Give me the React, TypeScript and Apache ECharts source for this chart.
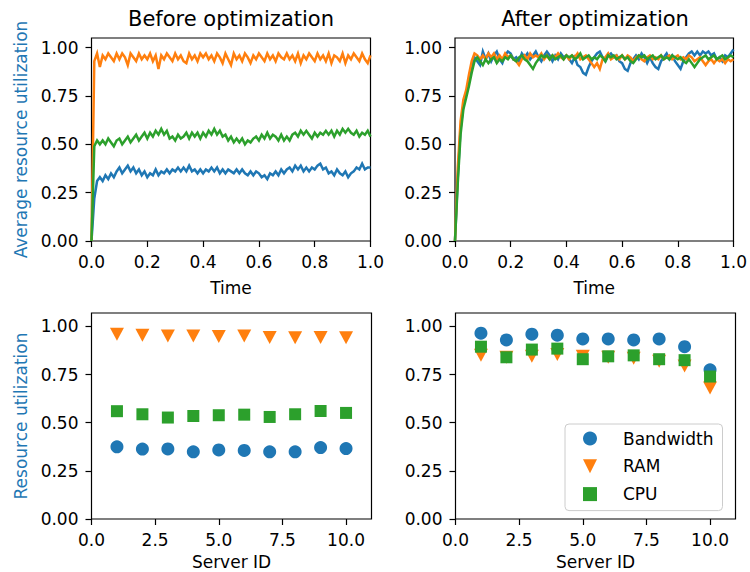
import React, { useEffect, useRef } from "react";
import * as echarts from "echarts";

// ---------- data ----------
const seriesNames = ["Bandwidth", "RAM", "CPU"];
const colors = ["#1f77b4", "#ff7f0e", "#2ca02c"];

// time samples (0.00 .. 1.00)
const timeSteps = 101;
const time = Array.from({ length: timeSteps }, (_, i) => i / 100);

// Before optimization (average utilization over time)
const beforeBandwidth = [
  0, 0.22, 0.31, 0.33, 0.31, 0.34, 0.32, 0.35, 0.33, 0.36,
  0.38, 0.35, 0.37, 0.39, 0.36, 0.38, 0.35, 0.37, 0.34, 0.36,
  0.33, 0.35, 0.34, 0.37, 0.34, 0.36, 0.35, 0.37, 0.35, 0.37,
  0.36, 0.38, 0.36, 0.38, 0.36, 0.39, 0.36, 0.37, 0.35, 0.37,
  0.35, 0.37, 0.36, 0.38, 0.36, 0.38, 0.35, 0.37, 0.35, 0.37,
  0.36, 0.35, 0.37, 0.35, 0.37, 0.35, 0.34, 0.36, 0.34, 0.36,
  0.35, 0.33, 0.34, 0.32, 0.35, 0.34, 0.36, 0.34, 0.37, 0.35,
  0.37, 0.38, 0.36, 0.39, 0.37, 0.39, 0.36, 0.38, 0.36, 0.38,
  0.37, 0.39, 0.4, 0.37, 0.38, 0.35, 0.36, 0.34, 0.37, 0.35,
  0.34, 0.36, 0.33, 0.35, 0.36, 0.38, 0.37, 0.4, 0.37, 0.38,
  0.38,
];
const beforeRAM = [
  0, 0.93, 0.97, 0.9, 0.96, 0.94, 0.97, 0.95, 0.93, 0.97,
  0.94, 0.97, 0.95, 0.91, 0.97, 0.95, 0.93, 0.97, 0.94, 0.96,
  0.94, 0.97, 0.93, 0.96, 0.89, 0.96, 0.94, 0.97, 0.95, 0.93,
  0.97, 0.94, 0.96, 0.93, 0.92, 0.97, 0.94, 0.96, 0.93, 0.97,
  0.95, 0.97, 0.94, 0.96, 0.93, 0.97, 0.95, 0.92, 0.97, 0.94,
  0.91, 0.97, 0.94, 0.96, 0.93, 0.97, 0.95, 0.92, 0.96, 0.94,
  0.97, 0.95, 0.93, 0.97, 0.94, 0.96, 0.93, 0.97, 0.95, 0.94,
  0.97, 0.94, 0.96, 0.93, 0.97, 0.92, 0.96, 0.94, 0.97, 0.95,
  0.93, 0.97, 0.94, 0.96, 0.93, 0.97, 0.92, 0.96, 0.95, 0.93,
  0.97, 0.92, 0.96, 0.94, 0.97, 0.95, 0.93, 0.97, 0.94, 0.92,
  0.96,
];
const beforeCPU = [
  0, 0.49, 0.52, 0.5, 0.52, 0.5, 0.53, 0.51, 0.49, 0.52,
  0.53, 0.5, 0.52, 0.54, 0.51, 0.53, 0.55, 0.52, 0.54, 0.56,
  0.53, 0.56, 0.54, 0.57, 0.55, 0.58, 0.55, 0.57, 0.53, 0.54,
  0.52, 0.55, 0.53, 0.54, 0.56, 0.53, 0.56, 0.54, 0.56, 0.53,
  0.56, 0.54, 0.57, 0.55, 0.58, 0.55, 0.57, 0.54, 0.55, 0.52,
  0.54, 0.51, 0.53, 0.51, 0.53, 0.5, 0.52, 0.51, 0.53, 0.54,
  0.52, 0.55, 0.53, 0.56, 0.53, 0.55, 0.54, 0.52, 0.55, 0.52,
  0.54, 0.52, 0.55, 0.56, 0.54, 0.57, 0.55, 0.57, 0.55, 0.53,
  0.56, 0.54, 0.56, 0.55, 0.57, 0.55, 0.57, 0.54, 0.57, 0.55,
  0.58, 0.56, 0.58, 0.56, 0.55, 0.57, 0.54, 0.56, 0.55, 0.57,
  0.54,
];

// After optimization (average utilization over time)
const afterBandwidth = [
  0, 0.33, 0.58, 0.7, 0.76, 0.83, 0.9, 0.95, 0.93, 0.91,
  0.98, 0.94, 0.97, 0.93, 0.96, 0.98, 0.94, 0.92, 0.96, 0.98,
  0.97, 0.94, 0.95, 0.93, 0.97, 0.95, 0.97, 0.94, 0.96, 0.98,
  0.95, 0.93, 0.96, 0.98, 0.96, 0.93, 0.96, 0.94, 0.97, 0.95,
  0.96, 0.94, 0.92, 0.95, 0.91, 0.9, 0.87, 0.86, 0.9, 0.93,
  0.95, 0.97, 0.98, 0.95, 0.93, 0.96, 0.97, 0.95, 0.96, 0.93,
  0.92, 0.89, 0.88, 0.92, 0.94, 0.96, 0.94, 0.97, 0.95, 0.92,
  0.95, 0.92, 0.9, 0.89, 0.93, 0.95, 0.97, 0.94, 0.96, 0.93,
  0.91, 0.89, 0.93, 0.95, 0.97, 0.98, 0.96, 0.98, 0.96, 0.98,
  0.97, 0.98, 0.96, 0.97, 0.94, 0.95, 0.93, 0.96, 0.95, 0.97,
  0.99,
];
const afterRAM = [
  0, 0.38, 0.62, 0.73, 0.78, 0.86, 0.93, 0.97, 0.96, 0.94,
  0.96, 0.94, 0.97, 0.95, 0.97, 0.94, 0.96, 0.94, 0.97, 0.95,
  0.96, 0.94, 0.93, 0.91, 0.94, 0.96, 0.94, 0.97, 0.95, 0.96,
  0.95, 0.97, 0.94, 0.96, 0.94, 0.96, 0.95, 0.97, 0.95, 0.94,
  0.96, 0.94, 0.96, 0.95, 0.97, 0.94, 0.95, 0.96, 0.94, 0.92,
  0.9, 0.92, 0.89, 0.94, 0.95, 0.97, 0.94, 0.95, 0.96, 0.94,
  0.96, 0.94, 0.96, 0.95, 0.93, 0.95, 0.96, 0.94, 0.93, 0.95,
  0.96, 0.94, 0.95, 0.94, 0.96, 0.94, 0.95, 0.96, 0.94, 0.95,
  0.96, 0.94, 0.95, 0.94, 0.96, 0.95, 0.93, 0.94, 0.95, 0.93,
  0.91, 0.93, 0.94, 0.92, 0.94, 0.93, 0.94, 0.92, 0.94, 0.93,
  0.94,
];
const afterCPU = [
  0, 0.3, 0.55, 0.68, 0.74, 0.8, 0.87, 0.93, 0.95, 0.93,
  0.91, 0.94, 0.92, 0.94, 0.95, 0.92, 0.94, 0.93, 0.95, 0.94,
  0.96, 0.94, 0.93, 0.95, 0.96, 0.94, 0.93, 0.91, 0.89, 0.92,
  0.94, 0.96, 0.95, 0.96, 0.94, 0.96, 0.94, 0.95, 0.96, 0.94,
  0.96, 0.95, 0.96, 0.94, 0.95, 0.97, 0.94, 0.95, 0.96, 0.94,
  0.95, 0.94, 0.96, 0.95, 0.93, 0.96, 0.95, 0.96, 0.94, 0.95,
  0.96, 0.94, 0.95, 0.93, 0.92, 0.94, 0.96, 0.95, 0.96, 0.94,
  0.95, 0.96, 0.94, 0.95, 0.96, 0.94, 0.95, 0.94, 0.96, 0.95,
  0.94, 0.95, 0.93, 0.92, 0.94, 0.92, 0.9, 0.92, 0.94, 0.95,
  0.96, 0.94, 0.95, 0.96, 0.94, 0.95, 0.96, 0.94, 0.95, 0.96,
  0.95,
];

// Per-server utilization
const serverIds = [1, 2, 3, 4, 5, 6, 7, 8, 9, 10];
const serverBeforeBandwidth = [0.375, 0.363, 0.364, 0.349, 0.359, 0.356, 0.349, 0.349, 0.371, 0.366];
const serverBeforeRAM = [0.96, 0.955, 0.95, 0.95, 0.948, 0.95, 0.943, 0.942, 0.943, 0.942];
const serverBeforeCPU = [0.56, 0.544, 0.527, 0.535, 0.539, 0.542, 0.53, 0.544, 0.561, 0.551];
const serverAfterBandwidth = [0.965, 0.93, 0.96, 0.955, 0.935, 0.935, 0.93, 0.935, 0.895, 0.775];
const serverAfterRAM = [0.85, 0.84, 0.845, 0.855, 0.845, 0.84, 0.835, 0.82, 0.795, 0.68];
const serverAfterCPU = [0.895, 0.84, 0.88, 0.885, 0.83, 0.845, 0.85, 0.83, 0.825, 0.74];

const yTicks = [0, 0.25, 0.5, 0.75, 1.0];
const timeTicks = [0, 0.2, 0.4, 0.6, 0.8, 1.0];
const serverTicks = [0, 2.5, 5, 7.5, 10];

const titles = ["Before optimization", "After optimization"];
const yNames = ["Average resource utilization", "Resource utilization"];
const xNames = ["Time", "Server ID"];

// ---------- styling ----------
const FONT = "DejaVu Sans";
const TICK_FS = 17;
const markerSymbols = ["circle", "path://M0,0L2,0L1,2Z", "rect"];
const markerSizes: any[] = [13, [14, 13], 12];

export default function App() {
  const ref = useRef<HTMLDivElement>(null);

  useEffect(() => {
    if (!ref.current) return;
    const chart = echarts.init(ref.current, null, { renderer: "svg" });

    const grids = [
      { left: 91.5, top: 38, width: 279, height: 203 },
      { left: 455, top: 38, width: 280, height: 203 },
      { left: 91.5, top: 313, width: 280, height: 206 },
      { left: 455.5, top: 313, width: 280, height: 206 },
    ].map((g) => ({ ...g, show: true, borderColor: "#000", borderWidth: 1.2, backgroundColor: "transparent" }));

    const mkX = (gi: number) => {
      const isTime = gi < 2;
      const ticks = isTime ? timeTicks : serverTicks;
      return {
        type: "value",
        gridIndex: gi,
        min: 0,
        max: isTime ? 1 : 11,
        name: isTime ? xNames[0] : xNames[1],
        nameLocation: "middle",
        nameGap: isTime ? 38 : 34,
        nameTextStyle: { color: "#000", fontSize: TICK_FS, fontFamily: FONT },
        axisLine: { show: false },
        splitLine: { show: false },
        axisTick: { show: true, length: 6, lineStyle: { color: "#000", width: 1.2 }, customValues: ticks },
        axisLabel: {
          color: "#000",
          fontSize: TICK_FS,
          fontFamily: FONT,
          margin: 12,
          customValues: ticks,
          formatter: (v: number) => v.toFixed(1),
        },
      };
    };
    const mkY = (gi: number) => ({
      type: "value",
      gridIndex: gi,
      min: 0,
      max: gi < 2 ? 1.05 : 1.07,
      name: gi === 0 ? yNames[0] : gi === 2 ? yNames[1] : "",
      nameLocation: "middle",
      nameRotate: 90,
      nameGap: 62,
      nameTextStyle: { color: "#1f77b4", fontSize: TICK_FS, fontFamily: FONT },
      axisLine: { show: false },
      splitLine: { show: false },
      axisTick: { show: true, length: 6, lineStyle: { color: "#000", width: 1.2 }, customValues: yTicks },
      axisLabel: {
        color: "#000",
        fontSize: TICK_FS,
        fontFamily: FONT,
        margin: 13,
        customValues: yTicks,
        formatter: (v: number) => v.toFixed(2),
      },
    });

    const scatterSets = [
      [serverBeforeBandwidth, serverBeforeRAM, serverBeforeCPU],
      [serverAfterBandwidth, serverAfterRAM, serverAfterCPU],
    ];
    const lineSets = [
      [beforeBandwidth, beforeRAM, beforeCPU],
      [afterBandwidth, afterRAM, afterCPU],
    ];

    const series: any[] = [];
    scatterSets.forEach((set, si) => {
      set.forEach((vals, k) => {
        series.push({
          type: "scatter",
          name: seriesNames[k],
          xAxisIndex: 2 + si,
          yAxisIndex: 2 + si,
          symbol: markerSymbols[k],
          symbolSize: markerSizes[k],
          itemStyle: { color: colors[k], opacity: 1 },
          data: serverIds.map((id, i) => [id, vals[i]]),
          z: 3 + k,
        });
      });
    });
    lineSets.forEach((set, si) => {
      set.forEach((vals, k) => {
        series.push({
          type: "line",
          name: seriesNames[k],
          xAxisIndex: si,
          yAxisIndex: si,
          showSymbol: false,
          symbol: "none",
          lineStyle: { color: colors[k], width: 2.5, join: "miter" },
          itemStyle: { color: colors[k] },
          data: time.map((t, i) => [t, vals[i]]),
          z: 3 + k,
        });
      });
    });

    chart.setOption({
      animation: false,
      backgroundColor: "#fff",
      textStyle: { fontFamily: FONT },
      grid: grids,
      xAxis: [0, 1, 2, 3].map(mkX),
      yAxis: [0, 1, 2, 3].map(mkY),
      series,
      legend: {
        data: seriesNames,
        orient: "vertical",
        left: 565,
        top: 424,
        padding: [6, 9, 8, 18],
        itemWidth: 14,
        itemHeight: 14,
        itemGap: 10.8,
        selectedMode: false,
        backgroundColor: "rgba(255,255,255,0.8)",
        borderColor: "#cccccc",
        borderWidth: 1,
        borderRadius: 4,
        textStyle: { color: "#000", fontSize: TICK_FS, fontFamily: FONT, lineHeight: 14, padding: [0, 0, 0, 21] },
      },
      graphic: [
        {
          type: "text",
          x: 231,
          y: 19,
          style: { text: titles[0], align: "center", verticalAlign: "middle", fontSize: 21, fontFamily: FONT, fill: "#000" },
        },
        {
          type: "text",
          x: 595,
          y: 19,
          style: { text: titles[1], align: "center", verticalAlign: "middle", fontSize: 21, fontFamily: FONT, fill: "#000" },
        },
      ],
    });

    return () => chart.dispose();
  }, []);

  return (
    <div
      ref={ref}
      style={{ position: "absolute", left: 0, top: 0, width: 750, height: 572, background: "#fff" }}
    />
  );
}
